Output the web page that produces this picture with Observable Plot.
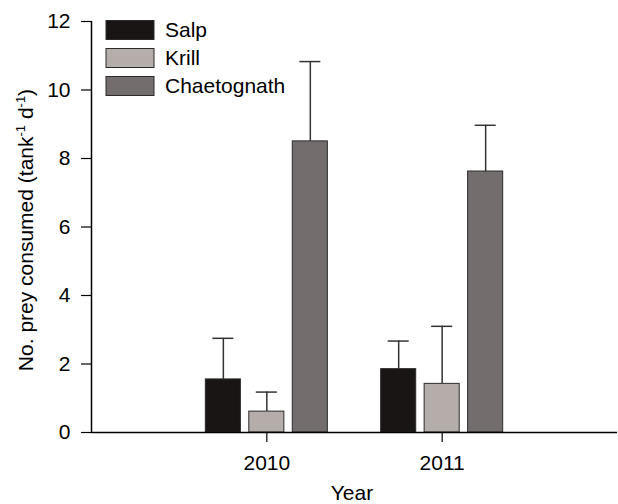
<!DOCTYPE html>
<html>
<head>
<meta charset="utf-8">
<script src="https://cdn.jsdelivr.net/npm/d3@7"></script>
<script src="https://cdn.jsdelivr.net/npm/@observablehq/plot@0.6"></script>
<style>
  html, body { margin: 0; padding: 0; background: #fff; }
  svg { display: block; }
</style>
</head>
<body>
<div id="chart"></div>
<script>
// ---- data ----
const years = [2010, 2011];
const species = ["Salp", "Krill", "Chaetognath"];
const colors = ["#1a1515", "#b5adaa", "#736d6d"];
const salpMean = [1.55, 1.85];
const salpErr = [1.2, 0.82];
const krillMean = [0.61, 1.42];
const krillErr = [0.57, 1.68];
const chaetMean = [8.5, 7.62];
const chaetErr = [2.33, 1.35];
const yTicks = [0, 2, 4, 6, 8, 10, 12];
const yLabel = ["No. prey consumed (tank", "-1", " d", "-1", ")"];
const xLabel = "Year";

const means = [salpMean, krillMean, chaetMean];
const errs = [salpErr, krillErr, chaetErr];
const rows = [];
species.forEach((s, i) => years.forEach((yr, j) => rows.push({
  species: s, idx: i, year: yr, mean: means[i][j], err: errs[i][j]
})));

// layout constants (in year units of the x scale)
const OFF = 0.248, HALF = 0.1, CAP = 0.06;
const cx = d => d.year + (d.idx - 1) * OFF;
const FONT = "'Liberation Sans', Arial, sans-serif";
const FS = 21;

const chart = Plot.plot({
  width: 618, height: 504,
  marginLeft: 91, marginRight: 1, marginTop: 21, marginBottom: 72,
  style: { fontFamily: FONT, fontSize: FS + "px", color: "#000", background: "#fff", overflow: "visible" },
  x: { domain: [2009, 2012], label: null },
  y: { domain: [0, 12], label: null },
  color: { domain: species, range: colors },
  marks: [
    Plot.ruleX(rows, { x: cx, y1: "mean", y2: d => d.mean + d.err, stroke: "#333", strokeWidth: 1.5 }),
    Plot.ruleY(rows, { x1: d => cx(d) - CAP, x2: d => cx(d) + CAP, y: d => d.mean + d.err, stroke: "#333", strokeWidth: 1.5 }),
    Plot.rectY(rows, { x1: d => cx(d) - HALF, x2: d => cx(d) + HALF, y1: 0, y2: "mean", fill: "species", stroke: "#2b2b2b", strokeWidth: 1 }),
    Plot.ruleX([2009], { y1: 0, y2: 12, stroke: "#000", strokeWidth: 1.5 }),
    Plot.ruleY([0], { stroke: "#000", strokeWidth: 1.5 }),
    Plot.axisY({ ticks: yTicks, tickSize: 10, tickPadding: 11, strokeWidth: 1.2, label: null }),
    Plot.axisX({ ticks: years, tickFormat: d => String(d), tickSize: 10, tickPadding: 13, strokeWidth: 1.2, label: null })
  ]
});

const svg = d3.select(chart);

// y-axis title with superscripts
const yt = svg.append("text")
  .attr("transform", "translate(33,230) rotate(-90)")
  .attr("text-anchor", "middle")
  .attr("font-family", FONT).attr("font-size", FS).attr("fill", "#000");
yLabel.forEach((t, i) => {
  const sp = yt.append("tspan").text(t);
  if (i % 2 === 1) sp.attr("font-size", 13).attr("dy", -8);
  else if (i > 0) sp.attr("dy", 8);
});

// x-axis title
svg.append("text")
  .attr("x", 352).attr("y", 500)
  .attr("text-anchor", "middle")
  .attr("font-family", FONT).attr("font-size", FS).attr("fill", "#000")
  .text(xLabel);

// legend
const lg = svg.append("g").attr("text-anchor", "start");
species.forEach((s, i) => {
  const cy = 30 + i * 28;
  lg.append("rect").attr("x", 106).attr("y", cy - 9.5).attr("width", 48).attr("height", 19)
    .attr("fill", colors[i]).attr("stroke", "#2b2b2b").attr("stroke-width", 1);
  lg.append("text").attr("x", 165).attr("y", cy).attr("dy", "0.35em")
    .attr("text-anchor", "start")
    .attr("font-family", FONT).attr("font-size", FS).attr("fill", "#000").text(s);
});

document.getElementById("chart").appendChild(chart);
</script>
</body>
</html>
